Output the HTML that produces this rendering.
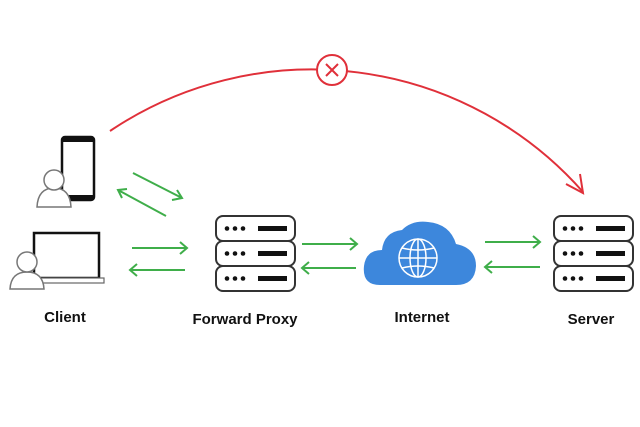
<!DOCTYPE html>
<html><head><style>
html,body{margin:0;padding:0;background:#fff;}
svg{display:block}
text{font-family:"Liberation Sans",sans-serif;font-weight:bold;font-size:15px;fill:#111}
</style></head><body>
<svg width="640" height="427" viewBox="0 0 640 427" xmlns="http://www.w3.org/2000/svg">
<defs>
<g id="srv">
 <rect x="0" y="0" width="79" height="25" rx="7" fill="#fff" stroke="#333" stroke-width="2"/>
 <circle cx="11" cy="12.5" r="2.3" fill="#111"/><circle cx="19" cy="12.5" r="2.3" fill="#111"/><circle cx="27" cy="12.5" r="2.3" fill="#111"/>
 <rect x="42" y="10" width="29" height="5" fill="#111"/>
</g>
<g id="stack"><use href="#srv" y="0"/><use href="#srv" y="25"/><use href="#srv" y="50"/></g>
</defs>
<!-- red arc -->
<path d="M110 131 A361.5 361.5 0 0 1 583 192" fill="none" stroke="#e0303a" stroke-width="2"/>
<path d="M566 184 L583 193 L580 174" fill="none" stroke="#e0303a" stroke-width="2"/>
<circle cx="332" cy="70" r="15" fill="#fff" stroke="#e0303a" stroke-width="2"/>
<path d="M326 64 L338 76 M338 64 L326 76" stroke="#e0303a" stroke-width="2"/>
<!-- phone -->
<rect x="62" y="137" width="32" height="63" rx="3" fill="#fff" stroke="#111" stroke-width="2.5"/>
<rect x="62" y="137" width="32" height="5" fill="#111"/><rect x="62" y="195" width="32" height="5" fill="#111"/>
<path d="M37 207 Q38 188 54 188 Q70 188 71 207 Z" fill="#fff" stroke="#777" stroke-width="1.5"/>
<circle cx="54" cy="180" r="10" fill="#fff" stroke="#777" stroke-width="1.5"/>
<!-- laptop -->
<rect x="34" y="233" width="65" height="45" fill="#fff" stroke="#111" stroke-width="2.5"/>
<rect x="30" y="278" width="74" height="5" fill="#fff" stroke="#666" stroke-width="1.2"/>
<path d="M10 289 Q11 272 27 272 Q43 272 44 289 Z" fill="#fff" stroke="#777" stroke-width="1.5"/>
<circle cx="27" cy="262" r="10" fill="#fff" stroke="#777" stroke-width="1.5"/>
<!-- green arrows -->
<g stroke="#3fae4a" stroke-width="2" fill="none">
 <path d="M133 173 L182 198 M172 200 L182 198 L177 190"/>
 <path d="M166 216 L118 190 M127 189 L118 190 L122 198"/>
 <path d="M132 248 L187 248 M180 242 L187 248 L180 254"/>
 <path d="M185 270 L130 270 M137 264 L130 270 L137 276"/>
 <path d="M302 244 L357 244 M350 238 L357 244 L350 250"/>
 <path d="M356 268 L302 268 M309 262 L302 268 L309 274"/>
 <path d="M485 242 L540 242 M533 236 L540 242 L533 248"/>
 <path d="M540 267 L485 267 M492 261 L485 267 L492 273"/>
</g>
<!-- servers -->
<use href="#stack" x="216" y="216"/>
<use href="#stack" x="554" y="216"/>
<!-- cloud -->
<path d="M380 285 Q362 285 364 266 Q366 250 382 250 Q384 232 402 230 Q412 220 428 222 Q450 224 456 244 Q476 248 476 266 Q475 285 456 285 Z" fill="#3d87dc"/>
<g stroke="#fff" stroke-width="1.5" fill="none">
 <circle cx="418" cy="258" r="19"/>
 <ellipse cx="418" cy="258" rx="8" ry="19"/>
 <line x1="418" y1="239" x2="418" y2="277"/>
 <line x1="399" y1="258" x2="437" y2="258"/>
 <path d="M402 248 Q418 252 434 248 M402 268 Q418 264 434 268"/>
</g>
<!-- labels -->
<text x="65" y="322" text-anchor="middle">Client</text>
<text x="245" y="324" text-anchor="middle">Forward Proxy</text>
<text x="422" y="322" text-anchor="middle">Internet</text>
<text x="591" y="324" text-anchor="middle">Server</text>
</svg>
</body></html>
